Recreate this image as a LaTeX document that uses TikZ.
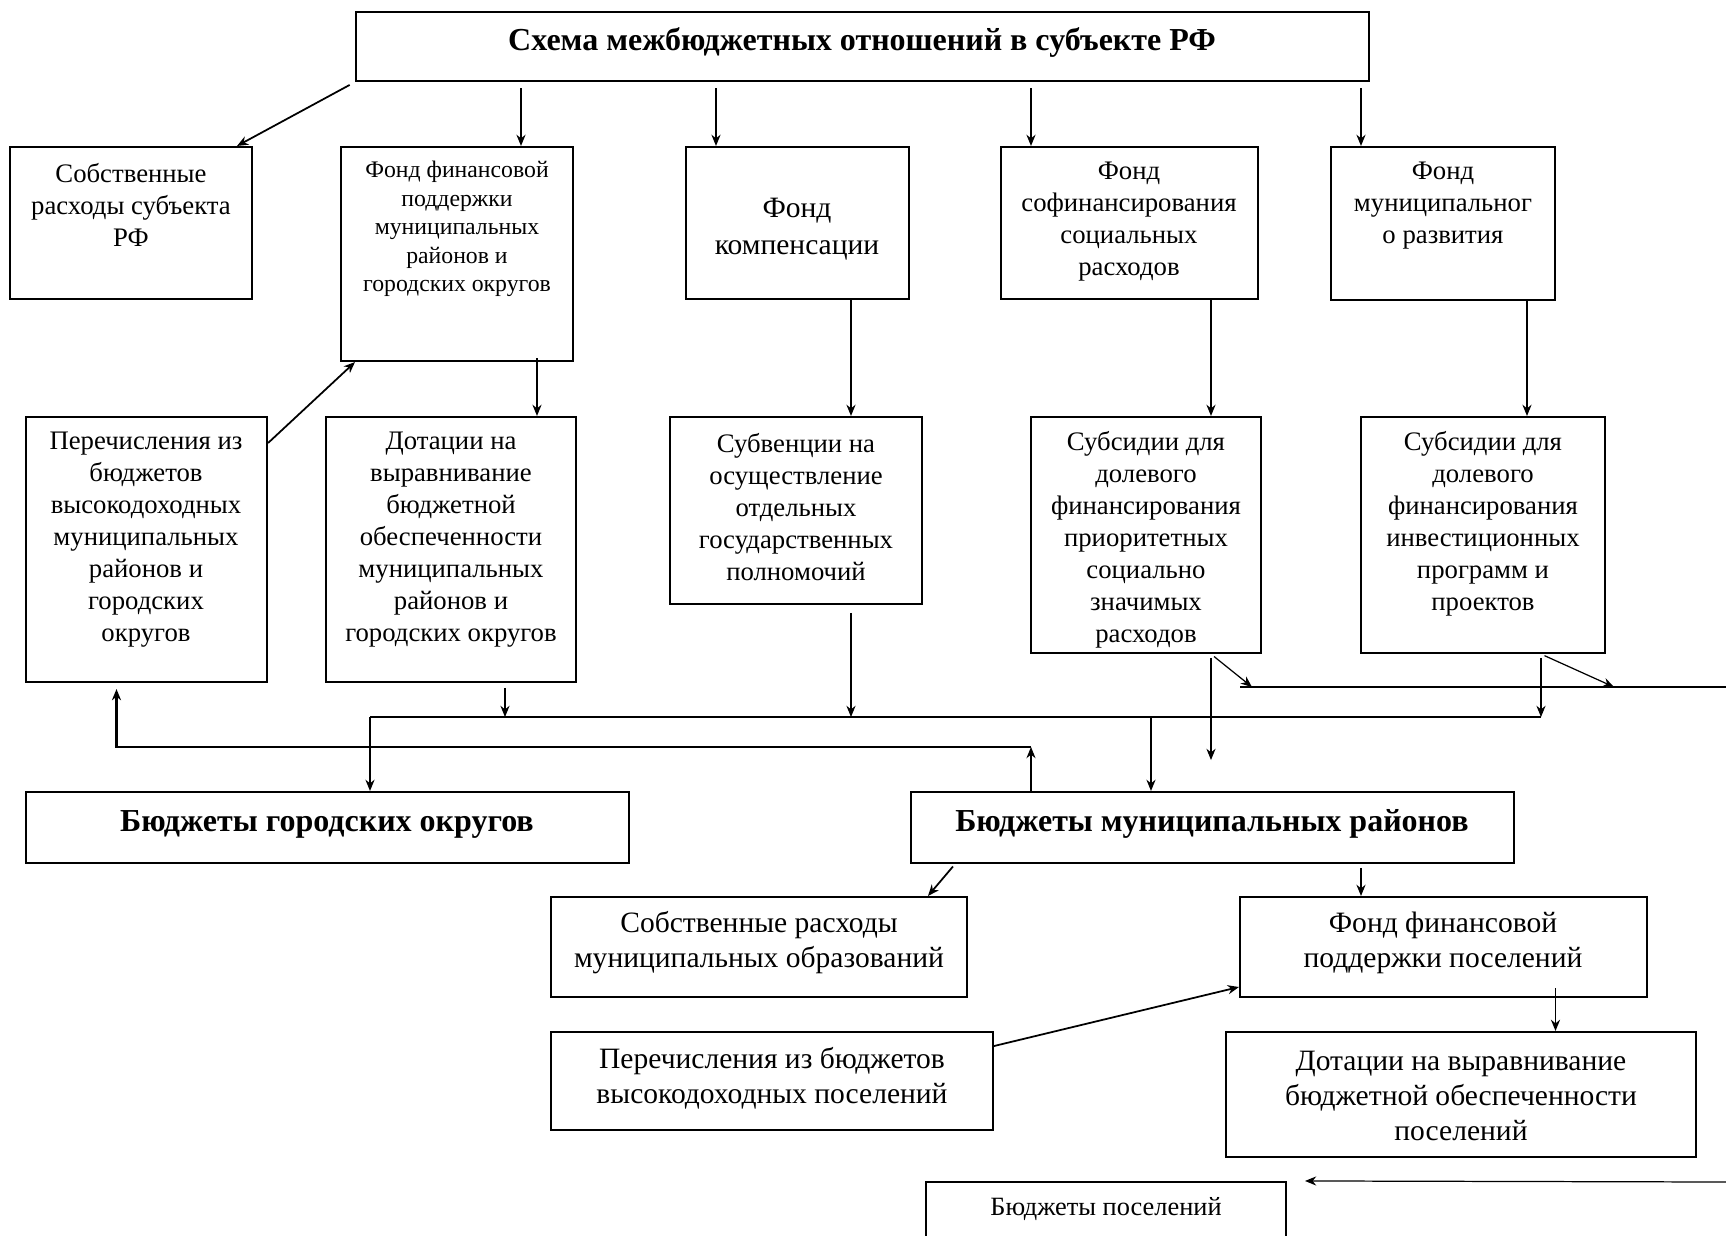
\documentclass[tikz,border=0pt]{standalone}
\usepackage{fontspec}
\setmainfont{Liberation Serif}
\usetikzlibrary{arrows.meta,fit}
\newcommand{\mkbox}[3]{\node[boxnode, fit={#2 #3}] (#1) {} ;}
\tikzset{
    boxnode/.style={
        draw,
        line width=0.6pt,
        inner sep=0,
    },
    txt/.style={
        align=center,
        inner sep=0,
        font=\fontsize{7.6}{9.1}\selectfont,
    },
    smalltxt/.style={txt, font=\fontsize{6.75}{8.1}\selectfont},
    bigtxt/.style={txt, font=\fontsize{8.4}{10.5}\selectfont},
    lowtxt/.style={txt, font=\fontsize{8.4}{10}\selectfont},
    headtxt/.style={txt, font=\fontsize{9.1}{11}\selectfont\bfseries},
    link/.style={-{Stealth[length=3.2pt,width=2.6pt]}, line width=0.35pt},
    slantlink/.style={link, line width=0.5pt},
    bus/.style={line width=0.6pt},
}
\begin{document}
\begin{tikzpicture}[x=0.01cm, y=-0.01cm]
    \useasboundingbox (0,0) rectangle (1726,1235);

    % boxes
    \mkbox{head}{(356,12)}{(1369,81)}
    \mkbox{own}{(10,147)}{(252,299)}
    \mkbox{ffp}{(341,147)}{(573,361)}
    \mkbox{comp}{(686,147)}{(909,299)}
    \mkbox{cofin}{(1001,147)}{(1258,299)}
    \mkbox{mundev}{(1331,147)}{(1555,300)}
    \mkbox{transfer}{(26,417)}{(267,682)}
    \mkbox{dot}{(326,417)}{(576,682)}
    \mkbox{subv}{(670,417)}{(922,604)}
    \mkbox{subsA}{(1031,417)}{(1261,653)}
    \mkbox{subsB}{(1361,417)}{(1605,653)}
    \mkbox{bgo}{(26,792)}{(629,863)}
    \mkbox{bmr}{(911,792)}{(1514,863)}
    \mkbox{srmo}{(551,897)}{(967,997)}
    \mkbox{ffpp}{(1240,897)}{(1647,997)}
    \mkbox{pibvp}{(551,1032)}{(993,1130)}
    \mkbox{dvbop}{(1226,1032)}{(1696,1157)}
    \mkbox{bp}{(926,1182)}{(1286,1262)}

    % texts
    \node[headtxt] (head-t) at (862,42) {Схема межбюджетных отношений в субъекте РФ};
    \node[txt] (own-t) at (131,205) {Собственные\\расходы субъекта\\РФ};
    \node[smalltxt] (ffp-t) at (457,229) {Фонд финансовой\\поддержки\\муниципальных\\районов и\\городских округов};
    \node[bigtxt] (comp-t) at (797,229) {Фонд\\компенсации};
    \node[txt] (cofin-t) at (1129,222) {Фонд\\софинансирования\\социальных\\расходов};
    \node[txt] (mundev-t) at (1443,206) {Фонд\\муниципальног\\о развития};
    \node[txt] (transfer-t) at (146,540) {Перечисления из\\бюджетов\\высокодоходных\\муниципальных\\районов и\\городских\\округов};
    \node[txt] (dot-t) at (451,540) {Дотации на\\выравнивание\\бюджетной\\обеспеченности\\муниципальных\\районов и\\городских округов};
    \node[txt] (subv-t) at (796,507) {Субвенции на\\осуществление\\отдельных\\государственных\\полномочий};
    \node[txt] (subsA-t) at (1146,540) {Субсидии для\\долевого\\финансирования\\приоритетных\\социально\\значимых\\расходов};
    \node[txt] (subsB-t) at (1483,524) {Субсидии для\\долевого\\финансирования\\инвестиционных\\программ и\\проектов};
    \node[headtxt] (bgo-t) at (327,824) {Бюджеты городских округов};
    \node[headtxt] (bmr-t) at (1212,824) {Бюджеты муниципальных районов};
    \node[lowtxt] (srmo-t) at (759,943) {Собственные расходы\\муниципальных образований};
    \node[lowtxt] (ffpp-t) at (1443,943) {Фонд финансовой\\поддержки поселений};
    \node[lowtxt] (pibvp-t) at (772,1078) {Перечисления из бюджетов\\высокодоходных поселений};
    \node[lowtxt] (dvbop-t) at (1461,1096) {Дотации на выравнивание\\бюджетной обеспеченности\\поселений};
    \node[smalltxt, font=\fontsize{7.5}{9}\selectfont] (bp-t) at (1106,1209) {Бюджеты поселений};

    % bus lines
    \coordinate (busA-w) at (370,717);
    \coordinate (busA-e) at (1541,717);
    \coordinate (busB-w) at (116.5,747);
    \coordinate (busB-e) at (1031,747);
    \coordinate (busC-w) at (1240,687);
    \coordinate (busC-e) at (1726,687);
    \coordinate (drop) at (1211,760);
    \coordinate (feed) at (1726,1182);
    \draw[bus] (busA-w) -- (busA-e);
    \draw[bus] (busC-w) -- (busC-e);
    \draw[bus, -{Stealth[length=3.2pt,width=2.6pt]}, shorten >=1.7pt]
        (busB-e) -- (busB-w) -- (transfer.south -| busB-w);

    % arrows from the head box
    \draw[slantlink, shorten <=1.7pt] (head.south west) -- (own.north -| 237,0);
    \draw[link, shorten <=1.7pt] (head.south -| 521,0) -- (ffp.north -| 521,0);
    \draw[link, shorten <=1.7pt] (head.south -| 716,0) -- (comp.north -| 716,0);
    \draw[link, shorten <=1.7pt] (head.south -| 1031,0) -- (cofin.north -| 1031,0);
    \draw[link, shorten <=1.7pt] (head.south -| 1361,0) -- (mundev.north -| 1361,0);

    % funds to transfers
    \draw[slantlink] (transfer.north east |- 0,443) -- (ffp.south west -| 355,0);
    \draw[link] (ffp.south -| 537,0) ++(0,-4) -- (dot.north -| 537,0);
    \draw[link] (comp.south -| 851,0) -- (subv.north -| 851,0);
    \draw[link] (cofin.south -| 1211,0) -- (subsA.north -| 1211,0);
    \draw[link] (mundev.south -| 1527,0) -- (subsB.north -| 1527,0);

    % transfers to budgets
    \draw[link, shorten <=1.4pt] (dot.south -| 505,0) -- (busA-w -| 505,0);
    \draw[link, shorten <=2.2pt] (subv.south -| 851,0) -- (busA-w -| 851,0);
    \draw[link, shorten <=1.1pt] (subsB.south -| busA-e) -- (busA-e);
    \draw[link, shorten <=1.1pt] (subsA.south -| drop) -- (drop);
    \draw[link, shorten <=1.1pt] (subsA.south -| drop) -- (busC-w -| 1252,0);
    \draw[link, shorten <=1.1pt] (subsB.south -| busA-e) -- (busC-w -| 1614,0);
    \draw[link] (busA-w) -- (bgo.north -| busA-w);
    \draw[link] (busA-w -| 1151,0) -- (bmr.north -| 1151,0);
    \draw[link] (bmr.north -| busB-e) -- (busB-e);

    % settlements level
    \draw[slantlink, shorten <=0.9pt] (bmr.south -| 955,0) -- (srmo.north -| 928,0);
    \draw[link, shorten <=1.1pt] (bmr.south -| 1361,0) -- (ffpp.north -| 1361,0);
    \draw[slantlink] (pibvp.east |- 0,1046) -- (ffpp.west |- 0,987);
    \draw[link] (ffpp.south -| 1555.5,0) ++(0,-10) -- (dvbop.north -| 1555.5,0);
    \draw[link] (feed) -- (bp.north east -| 1305,0);
\end{tikzpicture}
\end{document}
